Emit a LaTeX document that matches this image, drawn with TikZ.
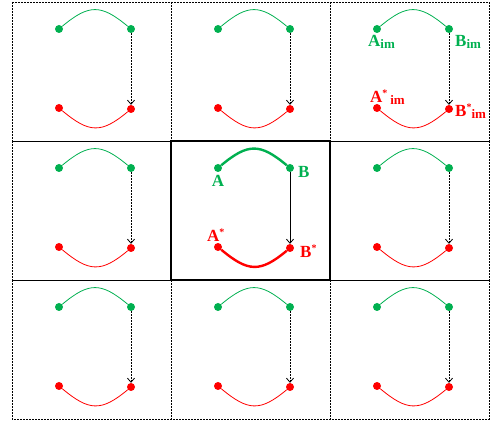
\documentclass[tikz,border=0pt]{standalone}
\usepackage{fontspec}
\setmainfont{Liberation Serif}
\usetikzlibrary{arrows.meta}

\definecolor{imgreen}{RGB}{0,176,80}
\definecolor{imred}{RGB}{255,0,0}

\newcommand{\supstar}{\raisebox{6pt}{\fontsize{10}{10}\selectfont *}}
\newcommand{\subim}{\raisebox{-2pt}{\fontsize{13}{13}\selectfont im}}

\begin{document}
\begin{tikzpicture}[
    x=1pt,y=-1pt,
    cellbox/.style={line width=0.7pt,dash pattern=on 2pt off 1pt},
    dot/.style={circle,fill=#1,inner sep=0pt,minimum size=8pt},
    arc/.style={line width=0.8pt},
    link/.style={line width=0.8pt,dash pattern=on 2pt off 1pt},
    lbl/.style={font=\bfseries\fontsize{17}{17}\selectfont,inner sep=0pt,text=#1},
    cell/.pic={
        \draw[cellbox] (0,0) rectangle (159,139);
        \node[dot=imgreen] (-A) at (47,27) {};
        \node[dot=imgreen] (-B) at (119,27) {};
        \node[dot=imred] (-As) at (47,106) {};
        \node[dot=imred] (-Bs) at (119,107) {};
        \draw[arc,imgreen] (-A) .. controls +(30,-25) and +(-30,-25) .. (-B);
        \draw[arc,imred] (-As) .. controls +(30,25) and +(-30,25) .. (-Bs);
        \draw[link,-{Straight Barb[length=4pt,width=7pt]}] (-B) -- (-Bs);
    }
]
\useasboundingbox (0,0) rectangle (491,425);

% outer cells
\foreach \x/\y/\n in {12/2/tl, 171/2/tc, 330/2/tr, 12/141/ml, 330/141/mr,
                      12/280/bl, 171/280/bc, 330/280/br} {
    \pic (\n) at (\x,\y) {cell};
}

% middle cell
\pic[cellbox/.style={line width=2pt},
     arc/.style={line width=2.4pt},
     link/.style={line width=0.8pt}] (mid) at (171,141) {cell};

% labels, middle
\node[lbl=imgreen,anchor=base] (lA) at ([shift={(0,19)}]mid-A.center) {A};
\node[lbl=imgreen,anchor=base west] (lB) at ([shift={(8,10)}]mid-B.center) {B};
\node[lbl=imred,anchor=base west] (lAs) at ([shift={(-11,-5)}]mid-As.center) {A\supstar};
\node[lbl=imred,anchor=base west] (lBs) at ([shift={(10,10)}]mid-Bs.center) {B\supstar};

% labels, top right
\node[lbl=imgreen,anchor=base west] (lAim) at ([shift={(-9,18)}]tr-A.center) {A\subim};
\node[lbl=imgreen,anchor=base west] (lBim) at ([shift={(6,18)}]tr-B.center) {B\subim};
\node[lbl=imred,anchor=base west] (lAsim) at ([shift={(-7,-5)}]tr-As.center) {A\supstar\,\subim};
\node[lbl=imred,anchor=base west] (lBsim) at ([shift={(6,8)}]tr-Bs.center) {B\supstar\subim};

\end{tikzpicture}
\end{document}
